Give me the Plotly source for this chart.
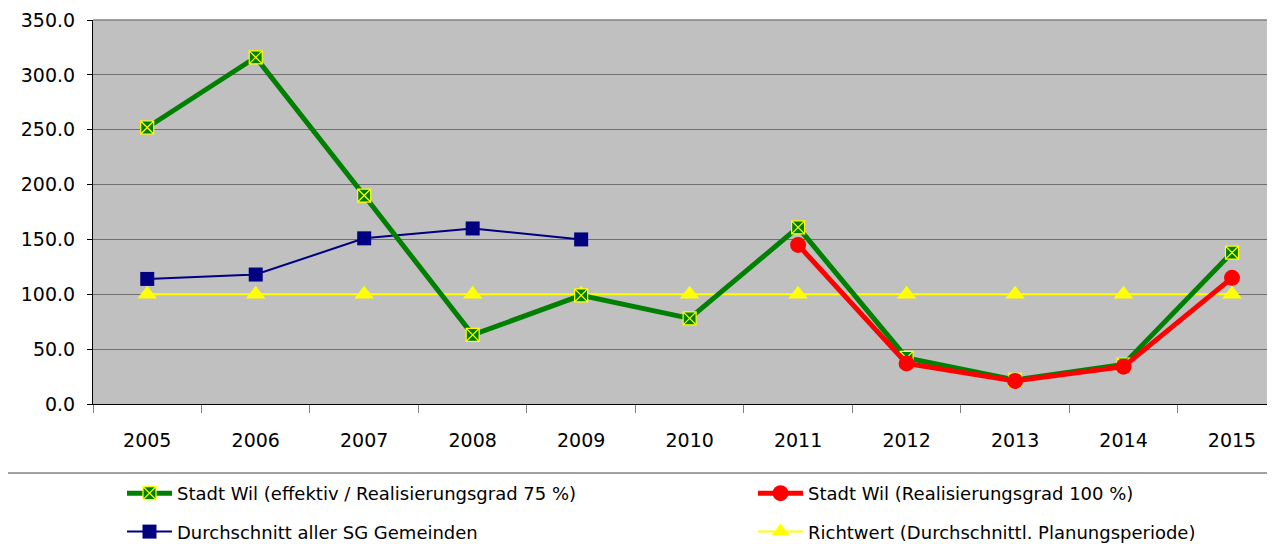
import plotly.graph_objects as go

years = ["2005", "2006", "2007", "2008", "2009", "2010", "2011", "2012", "2013", "2014", "2015"]
wil_eff = [252, 316, 190, 63, 99, 78, 161, 42, 22, 36, 138]
wil_100 = [None, None, None, None, None, None, 145, 37, 21, 34, 115]
sg_avg = [114, 118, 151, 160, 150, None, None, None, None, None, None]
richtwert = [100] * 11

name_eff = "Stadt Wil (effektiv / Realisierungsgrad 75 %)"
name_100 = "Stadt Wil (Realisierungsgrad 100 %)"
name_sg = "Durchschnitt aller SG Gemeinden"
name_rw = "Richtwert (Durchschnittl. Planungsperiode)"

FONT = "DejaVu Sans, Liberation Sans, Arial, sans-serif"

fig = go.Figure()
fig.add_trace(go.Scatter(x=years, y=richtwert, name=name_rw, mode="lines+markers",
                         line=dict(color="#FFFF00", width=2),
                         marker=dict(symbol="triangle-up", size=17, color="#FFFF00"),
                         legend="legend2", legendgroup="d", legendrank=4))
fig.add_trace(go.Scatter(x=years, y=sg_avg, name=name_sg, mode="lines+markers",
                         line=dict(color="#000080", width=2),
                         marker=dict(symbol="square", size=14, color="#000080"),
                         legend="legend", legendgroup="c", legendrank=3))
fig.add_trace(go.Scatter(x=years, y=wil_eff, name=name_eff, mode="lines+markers",
                         line=dict(color="#008000", width=5),
                         marker=dict(symbol="square-x", size=13, color="#008000",
                                     line=dict(color="#FFFF00", width=1.2)),
                         legend="legend", legendgroup="a", legendrank=1))
fig.add_trace(go.Scatter(x=years, y=wil_100, name=name_100, mode="lines+markers",
                         line=dict(color="#FF0000", width=5),
                         marker=dict(symbol="circle", size=16, color="#FF0000"),
                         legend="legend2", legendgroup="b", legendrank=2))

# page offset of 8px (body margin) compensated in the margins
PL, PT, PB, PR = 93, 20, 404, 1283
PW, PH = PR - PL, PB - PT
def py(px):
    return (PB - px) / PH
def pxx(px):
    return (px - PL) / PW

fig.update_layout(
    width=1275, height=544,
    margin=dict(l=PL - 8, r=0, t=PT - 8, b=544 - (PB - 8), autoexpand=False),
    paper_bgcolor="white", plot_bgcolor="#C0C0C0",
    font=dict(family=FONT, size=19, color="black"),
    legend=dict(x=pxx(122), y=py(475), xanchor="left", yanchor="top",
                bgcolor="rgba(0,0,0,0)", font=dict(size=18), itemwidth=45,
                traceorder="grouped", tracegroupgap=12),
    legend2=dict(x=pxx(753), y=py(475), xanchor="left", yanchor="top",
                 bgcolor="rgba(0,0,0,0)", font=dict(size=18), itemwidth=45,
                 traceorder="grouped", tracegroupgap=12),
    xaxis=dict(type="category", range=[-0.5, 10.47], showgrid=False, automargin=False,
               showline=True, linecolor="black", linewidth=1,
               ticks="outside", tickson="boundaries", ticklen=8, tickcolor="#808080",
               ticklabelstandoff=19, zeroline=False),
    yaxis=dict(range=[0, 350], dtick=50, tickformat=".1f", showgrid=True, automargin=False,
               gridcolor="#707070", gridwidth=1, showline=True, linecolor="black",
               linewidth=1, ticks="outside", ticklen=5, tickcolor="black",
               ticklabelstandoff=8, zeroline=False),
    showlegend=True,
)
# legend box top border
fig.add_shape(type="line", xref="paper", yref="paper", x0=pxx(0), x1=1,
              y0=py(473), y1=py(473), line=dict(color="#A0A0A0", width=2))
# top border of plot
fig.add_shape(type="line", xref="paper", yref="paper", x0=0, x1=1, y0=1, y1=1,
              line=dict(color="#808080", width=1.5))

fig.write_html("out.html")
